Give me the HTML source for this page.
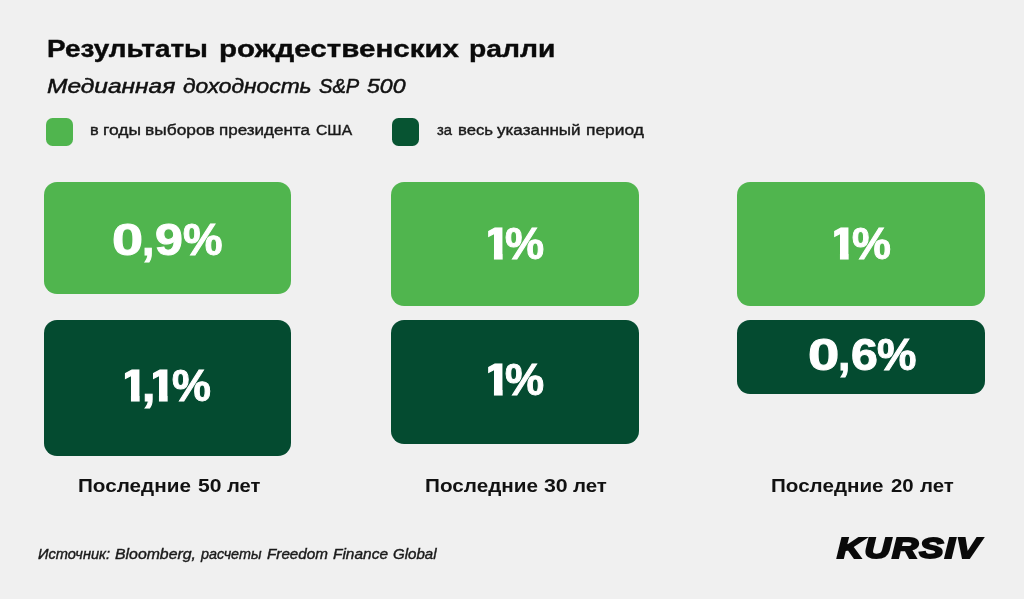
<!DOCTYPE html>
<html lang="ru">
<head>
<meta charset="utf-8">
<title>Результаты рождественских ралли</title>
<style>
html,body{margin:0;padding:0;}
body{width:1024px;height:599px;overflow:hidden;background:#f0f0f0;position:relative;font-family:"Liberation Sans",sans-serif;}
ul,li{margin:0;padding:0;list-style:none;}
.b{position:absolute;}
.box{border-radius:13px;}
.sw{border-radius:6.5px;}
.light{background:#50b54e;}
.dark{background:#044b30;}
.sw.dark{background:#075432;}
.t{position:absolute;left:0;margin:0;white-space:nowrap;line-height:1;}
.t span{position:absolute;top:0;display:inline-block;transform-origin:0 0;}
#title{top:37.02px;font-size:24.4px;font-weight:700;font-style:normal;color:#0a0a0a;-webkit-text-stroke:0.4px #0a0a0a;}
#sub{top:75.60px;font-size:20.6px;font-weight:400;font-style:italic;color:#111;-webkit-text-stroke:0.5px #111;}
#leg1{top:121.84px;font-size:15.1px;font-weight:400;font-style:normal;color:#1a1a1a;-webkit-text-stroke:0.4px #1a1a1a;}
#leg2{top:121.84px;font-size:15.1px;font-weight:400;font-style:normal;color:#1a1a1a;-webkit-text-stroke:0.4px #1a1a1a;}
#l1{top:477.00px;font-size:18.75px;font-weight:700;font-style:normal;color:#111;}
#l2{top:477.00px;font-size:18.75px;font-weight:700;font-style:normal;color:#111;}
#l3{top:477.00px;font-size:18.75px;font-weight:700;font-style:normal;color:#111;}
#src{top:547.34px;font-size:14.4px;font-weight:400;font-style:italic;color:#1a1a1a;-webkit-text-stroke:0.4px #1a1a1a;}
#logo{top:532.95px;font-size:30px;font-weight:700;font-style:italic;color:#0a0a0a;-webkit-text-stroke:2px #0a0a0a;letter-spacing:1px;}
.n{position:absolute;left:0;top:0;}
.g{position:absolute;display:inline-block;white-space:nowrap;line-height:1;transform-origin:0 0;font-weight:700;color:#fff;font-size:45px;-webkit-text-stroke:1px #fff;}
.o{clip-path:polygon(var(--l) 0,68.8% 0,68.8% 100%,39.8% 100%,39.8% 72.4%,var(--l) 72.4%);}
</style>
</head>
<body>
<main>
<header>
<h1 class="t" id="title"><span style="left:47.08px;transform:scaleX(1.1445)">Результаты</span> <span style="left:219.03px;transform:scaleX(1.2103)">рождественских</span> <span style="left:469.37px;transform:scaleX(1.1585)">ралли</span></h1>
<p class="t" id="sub"><span style="left:47.10px;transform:scaleX(1.1904)">Медианная</span> <span style="left:182.88px;transform:scaleX(1.1050)">доходность</span> <span style="left:318.84px;transform:scaleX(0.9768)">S&amp;P</span> <span style="left:367.18px;transform:scaleX(1.1213)">500</span></p>
</header>
<ul class="legend">
<li><div class="b sw light" style="left:45.6px;top:118px;width:27.5px;height:27.6px"></div><span class="t" id="leg1"><span style="left:89.84px;transform:scaleX(1.0811)">в</span> <span style="left:103.18px;transform:scaleX(1.1545)">годы</span> <span style="left:144.88px;transform:scaleX(1.1498)">выборов</span> <span style="left:218.50px;transform:scaleX(1.1269)">президента</span> <span style="left:315.71px;transform:scaleX(1.0378)">США</span></span></li>
<li><div class="b sw dark" style="left:391.9px;top:118px;width:27.5px;height:27.6px"></div><span class="t" id="leg2"><span style="left:436.80px;transform:scaleX(0.9804)">за</span> <span style="left:457.52px;transform:scaleX(1.1061)">весь</span> <span style="left:496.83px;transform:scaleX(1.1306)">указанный</span> <span style="left:586.08px;transform:scaleX(1.1513)">период</span></span></li>
</ul>
<section class="col">
<div class="b box light" style="left:44px;top:182.2px;width:247.4px;height:111.5px"></div>
<div class="n" id="n1"><span class="g" style="left:112.21px;top:216.50px;transform:scaleX(1.2410)">0</span><span class="g" style="left:142.19px;top:216.50px;transform:scaleX(0.9814)">,</span><span class="g" style="left:155.12px;top:216.50px;transform:scaleX(1.1142)">9</span><span class="g" style="left:183.09px;top:216.50px;transform:scaleX(0.9870)">%</span></div>
<div class="b box dark" style="left:44px;top:319.5px;width:247.4px;height:136.8px"></div>
<div class="n" id="n2"><span class="g o" style="left:118.79px;top:362.60px;transform:scaleX(1.2000);--l:19.7%">1</span><span class="g" style="left:141.79px;top:362.60px;transform:scaleX(1.0621)">,</span><span class="g o" style="left:147.49px;top:362.60px;transform:scaleX(1.2000);--l:20.0%">1</span><span class="g" style="left:171.80px;top:362.60px;transform:scaleX(0.9714)">%</span></div>
<h2 class="t" id="l1"><span style="left:78.20px;transform:scaleX(1.1035)">Последние</span> <span style="left:197.80px;transform:scaleX(1.1259)">50</span> <span style="left:226.60px;transform:scaleX(1.0764)">лет</span></h2>
</section>
<section class="col">
<div class="b box light" style="left:391px;top:182.2px;width:247.8px;height:123.9px"></div>
<div class="n" id="n3"><span class="g o" style="left:481.59px;top:221.00px;transform:scaleX(1.2000);--l:20.4%">1</span><span class="g" style="left:504.99px;top:221.00px;transform:scaleX(0.9766)">%</span></div>
<div class="b box dark" style="left:391px;top:319.6px;width:247.8px;height:124.3px"></div>
<div class="n" id="n4"><span class="g o" style="left:481.59px;top:356.60px;transform:scaleX(1.2000);--l:20.4%">1</span><span class="g" style="left:504.99px;top:356.60px;transform:scaleX(0.9766)">%</span></div>
<h2 class="t" id="l2"><span style="left:424.80px;transform:scaleX(1.1044)">Последние</span> <span style="left:544.40px;transform:scaleX(1.1357)">30</span> <span style="left:573.20px;transform:scaleX(1.0926)">лет</span></h2>
</section>
<section class="col">
<div class="b box light" style="left:737.4px;top:182.2px;width:247.4px;height:124px"></div>
<div class="n" id="n5"><span class="g o" style="left:827.79px;top:221.00px;transform:scaleX(1.2000);--l:20.4%">1</span><span class="g" style="left:851.60px;top:221.00px;transform:scaleX(0.9714)">%</span></div>
<div class="b box dark" style="left:737.4px;top:319.5px;width:247.4px;height:74.7px"></div>
<div class="n" id="n6"><span class="g" style="left:808.20px;top:331.70px;transform:scaleX(1.2499)">0</span><span class="g" style="left:837.79px;top:331.70px;transform:scaleX(0.9814)">,</span><span class="g" style="left:850.67px;top:331.70px;transform:scaleX(1.0724)">6</span><span class="g" style="left:877.49px;top:331.70px;transform:scaleX(0.9844)">%</span></div>
<h2 class="t" id="l3"><span style="left:771.10px;transform:scaleX(1.0995)">Последние</span> <span style="left:891.30px;transform:scaleX(1.0868)">20</span> <span style="left:919.80px;transform:scaleX(1.0893)">лет</span></h2>
</section>
<footer>
<p class="t" id="src"><span style="left:38.40px;transform:scaleX(1.0177)">Источник:</span> <span style="left:115.22px;transform:scaleX(1.1001)">Bloomberg,</span> <span style="left:200.80px;transform:scaleX(0.9984)">расчеты</span> <span style="left:266.81px;transform:scaleX(1.0587)">Freedom</span> <span style="left:333.01px;transform:scaleX(1.0738)">Finance</span> <span style="left:393.21px;transform:scaleX(1.0467)">Global</span></p>
<div class="t" id="logo"><span style="left:837.41px;transform:scaleX(1.2113)">KURSIV</span></div>
</footer>
</main>
</body>
</html>
